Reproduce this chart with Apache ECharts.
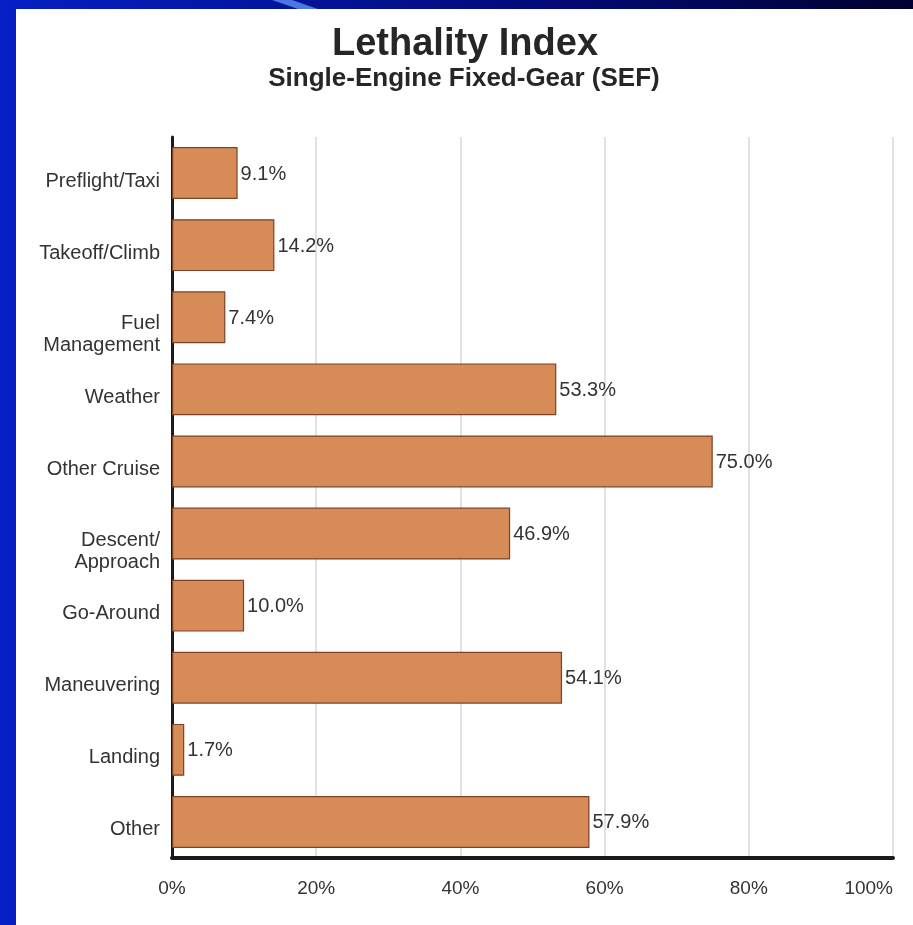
<!DOCTYPE html>
<html>
<head>
<meta charset="utf-8">
<script src="https://cdn.jsdelivr.net/npm/echarts@6/dist/echarts.min.js"></script>
<style>
html,body{margin:0;padding:0;width:913px;height:925px;overflow:hidden;}
#c{width:913px;height:925px;}
</style>
</head>
<body>
<div id="c"></div>
<script>
var categories = ['Preflight/Taxi','Takeoff/Climb','Fuel\nManagement','Weather','Other Cruise','Descent/\nApproach','Go-Around','Maneuvering','Landing','Other'];
var values = [9.1, 14.2, 7.4, 53.3, 75.0, 46.9, 10.0, 54.1, 1.7, 57.9];
var xTicks = [0, 20, 40, 60, 80, 100];
var titleText = 'Lethality Index';
var subtitleText = 'Single-Engine Fixed-Gear (SEF)';

var font = '"Liberation Sans", Arial, sans-serif';
function yLabel(c) {
  var lines = c.split('\n');
  var gap = lines.length > 1 ? '{g2| }' : '{g1| }';
  return gap + '\n' + lines.map(function (l) { return '{t|' + l + '}'; }).join('\n');
}
var chart = echarts.init(document.getElementById('c'));
chart.setOption({
  backgroundColor: {
    type: 'linear', x: 0, y: 0, x2: 1, y2: 0,
    colorStops: [{offset: 0, color: '#0520C4'}, {offset: 0.6, color: '#030A78'}, {offset: 1, color: '#00012E'}]
  },
  graphic: [
    {type: 'polygon', shape: {points: [[272,0],[292,0],[318,9],[298,9]]}, style: {fill: '#4A78E0'}, z: 0},
    {type: 'rect', shape: {x: 16, y: 9, width: 897, height: 916}, style: {fill: '#ffffff'}, z: 0}
  ],
  title: [{
    text: titleText,
    left: 465, textAlign: 'center', top: 26, padding: 0,
    textStyle: {fontFamily: font, fontWeight: 'bold', fontSize: 38, color: '#262626'}
  }, {
    text: subtitleText,
    left: 464, textAlign: 'center', top: 66, padding: 0,
    textStyle: {fontFamily: font, fontWeight: 'bold', fontSize: 26, color: '#262626'}
  }],
  grid: {left: 172, right: 20, top: 137, bottom: 67, show: true, borderColor: '#dcdcdc', borderWidth: 1, containLabel: false},
  xAxis: {
    type: 'value', min: 0, max: 100, interval: 20,
    axisLine: {show: true, lineStyle: {color: '#1a1a1a', width: 4}},
    axisTick: {show: false},
    splitLine: {show: true, lineStyle: {color: '#e2e2e2', width: 2}},
    axisLabel: {formatter: function (v) { return xTicks.indexOf(v) >= 0 ? v + '%' : ''; }, fontFamily: font, fontSize: 19, color: '#333', margin: 21, alignMaxLabel: 'right'}
  },
  yAxis: {
    type: 'category', data: categories, inverse: true,
    axisLine: {show: true, lineStyle: {color: '#1a1a1a', width: 3}},
    axisTick: {show: false},
    axisLabel: {
      formatter: yLabel, margin: 12, align: 'right',
      rich: {
        t: {fontFamily: font, fontSize: 20, color: '#333', lineHeight: 22, align: 'right'},
        g1: {fontSize: 8, lineHeight: 16},
        g2: {fontSize: 8, lineHeight: 35}
      }
    }
  },
  series: [{
    type: 'bar', data: values, barWidth: '72%',
    itemStyle: {color: '#D78B57', borderColor: '#7A4327', borderWidth: 1.2},
    label: {show: true, position: 'right', distance: 3, offset: [0, 1], fontFamily: font, fontSize: 20, color: '#333',
      formatter: function (p) { return p.value.toFixed(1) + '%'; }},
    z: 3
  }]
});
</script>
</body>
</html>
